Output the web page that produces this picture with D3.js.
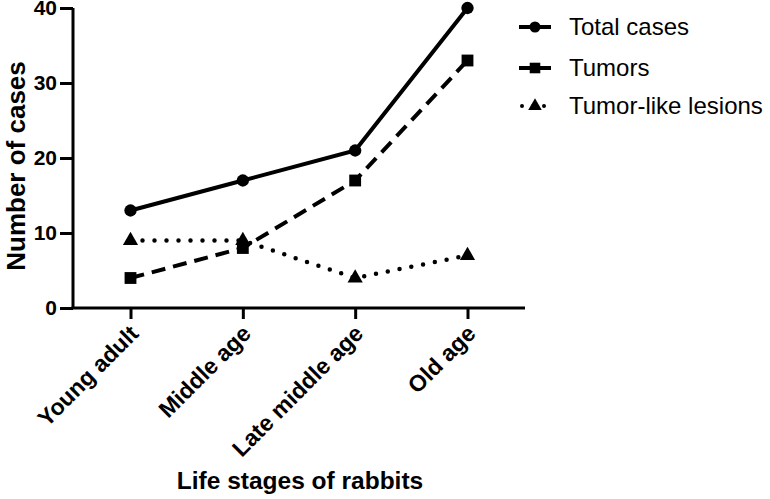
<!DOCTYPE html>
<html><head><meta charset="utf-8">
<script src="https://cdn.jsdelivr.net/npm/d3@7"></script>
<style>body{margin:0;background:#fff}svg{display:block}text{font-family:"Liberation Sans",Arial,sans-serif}</style>
</head><body>
<svg id="c" width="770" height="499"></svg>
<script>
const categories = ["Young adult","Middle age","Late middle age","Old age"];
const totalCases = [13,17,21,40];
const tumors = [4,8,17,33];
const tumorLike = [9,9,4,7];
const yTicks = [0,10,20,30,40];
const seriesNames = ["Total cases","Tumors","Tumor-like lesions"];

const svg = d3.select("#c");
const x = d3.scalePoint().domain(categories).range([130.5,467.5]);
const y = d3.scaleLinear().domain([0,40]).range([308,8]);
const x0 = 73, x1 = 525;

// axes
const ya = svg.append("g").attr("transform",`translate(${x0},0)`)
  .call(d3.axisLeft(y).tickValues(yTicks).tickSize(13).tickPadding(3).tickSizeOuter(0));
ya.select(".domain").attr("stroke-width",3).attr("d",`M0,${y(40)}V${y(0)}`);
ya.selectAll(".tick line").attr("stroke-width",3);
ya.selectAll(".tick text").attr("font-size",21).attr("font-weight","bold").attr("fill","#000");

const xa = svg.append("g").attr("transform",`translate(0,${y(0)})`)
  .call(d3.axisBottom(x).tickSize(11).tickSizeOuter(0));
xa.select(".domain").attr("stroke-width",3).attr("d",`M${x0-1.5},0H${x1}`);
xa.selectAll(".tick line").attr("stroke-width",3);
xa.selectAll(".tick text").attr("font-size",23).attr("font-weight","bold").attr("fill","#000")
  .attr("text-anchor","end").attr("dy","0").attr("y",0)
  .attr("transform","translate(9,27) rotate(-45)");

svg.append("text").attr("transform","translate(25,166) rotate(-90)")
  .attr("text-anchor","middle").attr("font-size",26).attr("font-weight","bold").text("Number of cases");
svg.append("text").attr("x",300).attr("y",489)
  .attr("text-anchor","middle").attr("font-size",24.5).attr("font-weight","bold").text("Life stages of rabbits");

const series = [
  {vals: totalCases, dash: null, cap:"butt", marker:"circle"},
  {vals: tumors, dash: "14 8", cap:"butt", marker:"square"},
  {vals: tumorLike, dash: "0 12", cap:"round", marker:"triangle"}
];
const line = d3.line().x((d,i)=>x(categories[i])).y(d=>y(d));
const sym = {circle: d3.symbolCircle, square: d3.symbolSquare, triangle: d3.symbolTriangle};
const symSize = {circle: 120, square: 140, triangle: 100};

series.forEach(s=>{
  svg.append("path").attr("d",line(s.vals)).attr("fill","none").attr("stroke","#000")
    .attr("stroke-width", s.marker==="triangle"?4.5:4).attr("stroke-dasharray",s.dash).attr("stroke-linecap",s.cap);
});
series.forEach(s=>{
  svg.selectAll(null).data(s.vals).enter().append("path")
    .attr("d",d3.symbol(sym[s.marker],symSize[s.marker]))
    .attr("transform",(d,i)=>`translate(${x(categories[i])},${y(d)})`).attr("fill","#000");
});

// legend
const ly = [27,68,106];
series.forEach((s,i)=>{
  const g = svg.append("g").attr("transform",`translate(0,${ly[i]})`);
  if (s.marker==="triangle") {
    g.append("path").attr("d","M521,0H551").attr("stroke","#000").attr("stroke-width",4)
      .attr("stroke-dasharray","0 11").attr("stroke-linecap","round").attr("stroke-dashoffset",-1);
  } else {
    g.append("path").attr("d","M519,0H551").attr("stroke","#000").attr("stroke-width",4);
  }
  g.append("path").attr("d",d3.symbol(sym[s.marker],symSize[s.marker]*0.8)).attr("transform","translate(535,0)");
  g.append("text").attr("x",569).attr("y",0).attr("dy","0.35em").attr("font-size",24).text(seriesNames[i]);
});
</script>
</body></html>
